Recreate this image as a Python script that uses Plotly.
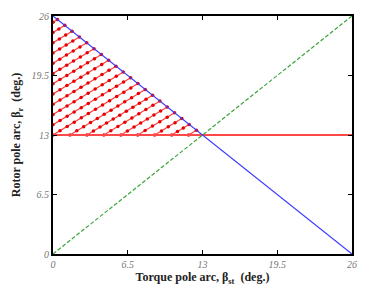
import numpy as np
import plotly.graph_objects as go

# Boundary lines (deg.)
beta_st = [0, 26]
beta_r_upper = [26, 0]      # blue: beta_r = 26 - beta_st
beta_r_diag = [0, 26]       # green: beta_r = beta_st
beta_r_min = [13, 13]       # red horizontal
tick_vals = [0, 6.5, 13, 19.5, 26]
tick_text = ["0", "6.5", "13", "19.5", "26"]

# hatch offsets above beta_r = 13 at beta_st = 0 (deg.)
hatch_step = 1.12
hatch_index = list(range(11, -9, -1))
hatch_slope = 0.76

fig = go.Figure()

# hatch lines with dots
hx, hy = [], []
for k in hatch_index:
    c = k * hatch_step
    x0 = 0.0 if c >= 0 else -c / hatch_slope
    x1 = (13 - c) / (1 + hatch_slope)
    if x1 <= x0:
        continue
    n = max(2, int(round((x1 - x0) / 0.6)) + 1)
    xs = np.linspace(x0, x1, n)
    ys = 13 + c + hatch_slope * xs
    hx += list(xs) + [None]
    hy += list(ys) + [None]
fig.add_trace(go.Scatter(x=hx, y=hy, mode="lines+markers",
                         line=dict(color="#ff4040", width=1.2),
                         marker=dict(color="#e80000", size=3.5),
                         showlegend=False, hoverinfo="skip"))

fig.add_trace(go.Scatter(x=beta_st, y=beta_r_min, mode="lines",
                         line=dict(color="#ff4848", width=1.8), showlegend=False))
fig.add_trace(go.Scatter(x=beta_st, y=beta_r_diag, mode="lines",
                         line=dict(color="#3aa53a", width=1.2, dash="4px,2px"), showlegend=False))
fig.add_trace(go.Scatter(x=beta_st, y=beta_r_upper, mode="lines",
                         line=dict(color="#3a3aff", width=1.2), showlegend=False))

axis_common = dict(
    range=[0, 26], tickvals=tick_vals, ticktext=tick_text,
    ticks="inside", ticklen=4, tickcolor="black", tickwidth=1,
    showline=True, linecolor="black", linewidth=2, mirror="ticks",
    showgrid=False, zeroline=False,
    tickfont=dict(family="Liberation Serif", size=10, color="#777777", style="italic"),
)

fig.update_layout(
    width=365, height=289,
    margin=dict(l=53, r=8, t=16, b=32),
    paper_bgcolor="white", plot_bgcolor="white",
    xaxis=dict(axis_common,
               title=dict(text="Torque pole arc, β<sub>st</sub>  (deg.)", standoff=3,
                          font=dict(family="Liberation Serif", size=12, color="#222222", weight="bold"))),
    yaxis=dict(axis_common,
               title=dict(text="Rotor pole arc, β<sub>r</sub>  (deg.)", standoff=8,
                          font=dict(family="Liberation Serif", size=12, color="#222222", weight="bold"))),
)

fig.write_html("out.html")
